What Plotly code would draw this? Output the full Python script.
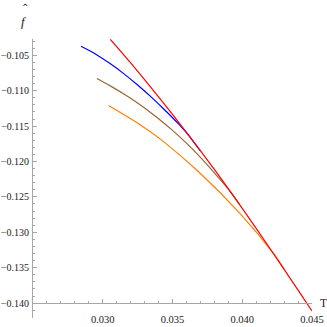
import plotly.graph_objects as go

# values
T_red = [0.03054, 0.0320, 0.0340, 0.0360, 0.0380, 0.0400, 0.0420, 0.0440, 0.0450]
f_red = [-0.10275, -0.10608, -0.11088, -0.11588, -0.12112, -0.12662, -0.13232, -0.13816, -0.14111]

T_blue = [0.02844, 0.0295, 0.0305, 0.0315, 0.0325, 0.0335, 0.0345, 0.0355, 0.0362, 0.0370]
f_blue = [-0.10373, -0.10484, -0.10614, -0.10759, -0.10920, -0.11095, -0.11283, -0.11483, -0.11640, -0.11852]

T_brown = [0.02958, 0.0306, 0.0316, 0.0327, 0.0340, 0.0350, 0.0360, 0.0370, 0.0380, 0.0390, 0.0398]
f_brown = [-0.10828, -0.10939, -0.11057, -0.11201, -0.11395, -0.11560, -0.11741, -0.11941, -0.12160, -0.12391, -0.12605]

T_orange = [0.030416, 0.032812, 0.034247, 0.036851, 0.039864, 0.042231, 0.0430]
f_orange = [-0.11210, -0.11497, -0.11702, -0.12142, -0.12739, -0.13298, -0.13520]

x_ticks = [0.030, 0.035, 0.040, 0.045]
y_ticks = [-0.140, -0.135, -0.130, -0.125, -0.120, -0.115, -0.110, -0.105]

x_range = [0.025, 0.045]
y_range = [-0.1421, -0.1027]

serif = "Liberation Serif, Times New Roman, DejaVu Serif, serif"
axis_grey = "#a6a6a6"
ink = "#1a1a1a"

fig = go.Figure()
for T, f, col in [(T_blue, f_blue, "#0000ff"),
                  (T_brown, f_brown, "#996633"),
                  (T_orange, f_orange, "#ff8000"),
                  (T_red, f_red, "#ff0000")]:
    fig.add_trace(go.Scatter(x=T, y=f, mode="lines", line=dict(color=col, width=1.2, shape="spline", smoothing=0.8),
                             showlegend=False, hoverinfo="skip"))

# x axis sits at f = -0.140, like Mathematica's AxesOrigin
xpos = (-0.140 - y_range[0]) / (y_range[1] - y_range[0])

fig.update_layout(
    width=327, height=327,
    margin=dict(l=33, r=15, t=39, b=9),
    paper_bgcolor="white", plot_bgcolor="white",
    font=dict(family=serif, size=10, color=ink),
    xaxis=dict(range=x_range, anchor="free", position=xpos, showgrid=False, zeroline=False,
               showline=True, linecolor=axis_grey, linewidth=1,
               tickmode="array", tickvals=x_ticks, ticktext=["%.3f" % v for v in x_ticks],
               ticks="inside", ticklen=4, tickcolor=axis_grey, tickwidth=1,
               ticklabelstandoff=6, tickfont=dict(family=serif, size=10.5, color=ink),
               minor=dict(dtick=0.001, tick0=0.025, ticks="inside", ticklen=2, tickcolor=axis_grey),
               automargin=False),
    yaxis=dict(range=y_range, showgrid=False, zeroline=False,
               showline=True, linecolor=axis_grey, linewidth=1,
               tickmode="array", tickvals=y_ticks, ticktext=["\u2212%.3f" % -v for v in y_ticks],
               ticks="inside", ticklen=4, tickcolor=axis_grey, tickwidth=1,
               ticklabelstandoff=1, tickfont=dict(family=serif, size=10, color=ink),
               minor=dict(dtick=0.001, tick0=-0.142, ticks="inside", ticklen=2, tickcolor=axis_grey),
               automargin=False),
)

fig.add_annotation(text="T", xref="paper", yref="paper", x=1.02, y=xpos, xanchor="left", yanchor="middle",
                   showarrow=False, font=dict(family=serif, size=11.5, color=ink))
fig.add_annotation(text="<i>f</i>", xref="paper", yref="paper", x=-0.034, y=1.064, xanchor="center", yanchor="middle",
                   showarrow=False, font=dict(family=serif, size=13, color=ink))
fig.add_annotation(text="\u02c6", xref="paper", yref="paper", x=-0.026, y=1.108, xanchor="center", yanchor="middle",
                   showarrow=False, font=dict(family=serif, size=13, color=ink))

# the page body has a default 8px margin; drop it so the figure sits at the window's corner
fig.write_html("out.html", config={"displayModeBar": False},
               post_script="document.body.style.margin='0';")
